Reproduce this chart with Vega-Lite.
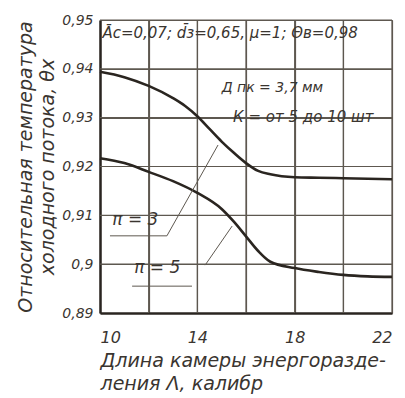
{
  "$schema": "https://vega.github.io/schema/vega-lite/v6.json",
  "width": 292,
  "height": 293,
  "autosize": {"type": "none"},
  "padding": {"left": 100, "top": 20, "right": 13, "bottom": 85},
  "background": "#ffffff",
  "config": {
    "view": {"stroke": null},
    "font": "DejaVu Sans",
    "axis": {
      "labelFont": "DejaVu Sans",
      "labelFontStyle": "italic",
      "titleFont": "DejaVu Sans",
      "titleFontStyle": "italic",
      "titleFontWeight": "normal",
      "labelColor": "#3a3530",
      "titleColor": "#3a3530",
      "grid": true,
      "gridColor": "#5e5850",
      "gridOpacity": 1,
      "gridWidth": 1.2,
      "domainColor": "#2a2520",
      "domainWidth": 2.5,
      "tickSize": 0
    }
  },
  "datasets": {
    "gridx": [{"L": 12}, {"L": 14}, {"L": 16}, {"L": 18}, {"L": 20}, {"L": 22}],
    "gridy": [{"theta": 0.9}, {"theta": 0.91}, {"theta": 0.92}, {"theta": 0.93}, {"theta": 0.94}, {"theta": 0.95}],
    "curves": [
      {"L": 10, "theta": 0.9394, "s": "upper"},
      {"L": 11, "theta": 0.9383, "s": "upper"},
      {"L": 12, "theta": 0.9365, "s": "upper"},
      {"L": 13, "theta": 0.9340, "s": "upper"},
      {"L": 13.5, "theta": 0.9324, "s": "upper"},
      {"L": 14, "theta": 0.9303, "s": "upper"},
      {"L": 14.5, "theta": 0.9277, "s": "upper"},
      {"L": 15, "theta": 0.9251, "s": "upper"},
      {"L": 15.5, "theta": 0.9228, "s": "upper"},
      {"L": 16, "theta": 0.9207, "s": "upper"},
      {"L": 16.5, "theta": 0.9191, "s": "upper"},
      {"L": 17, "theta": 0.9184, "s": "upper"},
      {"L": 18, "theta": 0.9178, "s": "upper"},
      {"L": 19, "theta": 0.9177, "s": "upper"},
      {"L": 20, "theta": 0.9176, "s": "upper"},
      {"L": 21, "theta": 0.9175, "s": "upper"},
      {"L": 22, "theta": 0.9174, "s": "upper"},
      {"L": 10, "theta": 0.9217, "s": "lower"},
      {"L": 11, "theta": 0.9207, "s": "lower"},
      {"L": 12, "theta": 0.9189, "s": "lower"},
      {"L": 13, "theta": 0.917, "s": "lower"},
      {"L": 14, "theta": 0.9146, "s": "lower"},
      {"L": 15, "theta": 0.9113, "s": "lower"},
      {"L": 15.5, "theta": 0.9087, "s": "lower"},
      {"L": 16, "theta": 0.9057, "s": "lower"},
      {"L": 16.5, "theta": 0.9027, "s": "lower"},
      {"L": 17, "theta": 0.9005, "s": "lower"},
      {"L": 18, "theta": 0.8992, "s": "lower"},
      {"L": 19, "theta": 0.8984, "s": "lower"},
      {"L": 20, "theta": 0.8978, "s": "lower"},
      {"L": 21, "theta": 0.8975, "s": "lower"},
      {"L": 22, "theta": 0.8974, "s": "lower"}
    ],
    "leaders": [
      {"x": 10.41, "y": 0.9058, "x2": 12.75, "y2": 0.9058},
      {"x": 12.75, "y": 0.9058, "x2": 14.85, "y2": 0.9244},
      {"x": 11.32, "y": 0.8955, "x2": 13.78, "y2": 0.8955},
      {"x": 14.32, "y": 0.8998, "x2": 15.43, "y2": 0.9078}
    ],
    "pilabels": [
      {"x": 11.45, "y": 0.9090, "label": "π = 3"},
      {"x": 12.35, "y": 0.8993, "label": "π = 5"}
    ],
    "notes": [
      {"x": 10.1, "y": 0.9473, "label": "Āc=0,07; d̄з=0,65, μ=1; Θв=0,98", "size": 15},
      {"x": 15.0, "y": 0.9361, "label": "Д пк = 3,7 мм", "size": 14},
      {"x": 15.47, "y": 0.9301, "label": "К = от 5 до 10 шт", "size": 15}
    ]
  },
  "layer": [
    {
      "data": {"name": "gridx"},
      "mark": {"type": "rule", "color": "#5e5850", "strokeWidth": 1.2},
      "encoding": {
        "x": {"field": "L", "type": "quantitative", "scale": {"domain": [10, 22], "nice": false, "zero": false}}
      }
    },
    {
      "data": {"name": "gridy"},
      "mark": {"type": "rule", "color": "#5e5850", "strokeWidth": 1.2},
      "encoding": {
        "y": {"field": "theta", "type": "quantitative", "scale": {"domain": [0.89, 0.95], "nice": false, "zero": false}}
      }
    },
    {
      "data": {"name": "curves"},
      "mark": {"type": "line", "interpolate": "monotone", "strokeWidth": 2.6, "color": "#2a2520"},
      "encoding": {
        "x": {
          "field": "L", "type": "quantitative",
          "scale": {"domain": [10, 22], "nice": false, "zero": false},
          "axis": {
            "values": [10, 12, 14, 16, 18, 20, 22],
            "labelExpr": "datum.value % 4 == 2 ? datum.label : ''",
            "labelFontSize": 16,
            "labelPadding": 16,
            "title": ["Длина камеры энергоразде-", "ления Λ, калибр"],
            "titleFontSize": 19,
            "titleLineHeight": 23,
            "titleAnchor": "start",
            "titleAlign": "left",
            "titlePadding": 6
          }
        },
        "y": {
          "field": "theta", "type": "quantitative",
          "scale": {"domain": [0.89, 0.95], "nice": false, "zero": false},
          "axis": {
            "values": [0.89, 0.9, 0.91, 0.92, 0.93, 0.94, 0.95],
            "labelExpr": "replace(format(datum.value, '.2~f'), '.', ',')",
            "labelFontSize": 14,
            "labelPadding": 7,
            "title": ["Относительная температура", "холодного потока, θх"],
            "titleFontSize": 19,
            "titleLineHeight": 22,
            "titlePadding": 4
          }
        },
        "detail": {"field": "s"}
      }
    },
    {
      "data": {"name": "leaders"},
      "mark": {"type": "rule", "color": "#5e5850", "strokeWidth": 1},
      "encoding": {
        "x": {"field": "x", "type": "quantitative"},
        "y": {"field": "y", "type": "quantitative"},
        "x2": {"field": "x2"},
        "y2": {"field": "y2"}
      }
    },
    {
      "data": {"name": "pilabels"},
      "mark": {"type": "text", "fontSize": 17, "fontStyle": "italic", "color": "#3a3530", "align": "center", "baseline": "middle"},
      "encoding": {
        "x": {"field": "x", "type": "quantitative"},
        "y": {"field": "y", "type": "quantitative"},
        "text": {"field": "label"}
      }
    },
    {
      "data": {"name": "notes"},
      "mark": {"type": "text", "fontStyle": "italic", "color": "#3a3530", "align": "left", "baseline": "middle"},
      "encoding": {
        "x": {"field": "x", "type": "quantitative"},
        "y": {"field": "y", "type": "quantitative"},
        "text": {"field": "label"},
        "size": {"field": "size", "type": "quantitative", "scale": null}
      }
    }
  ]
}
